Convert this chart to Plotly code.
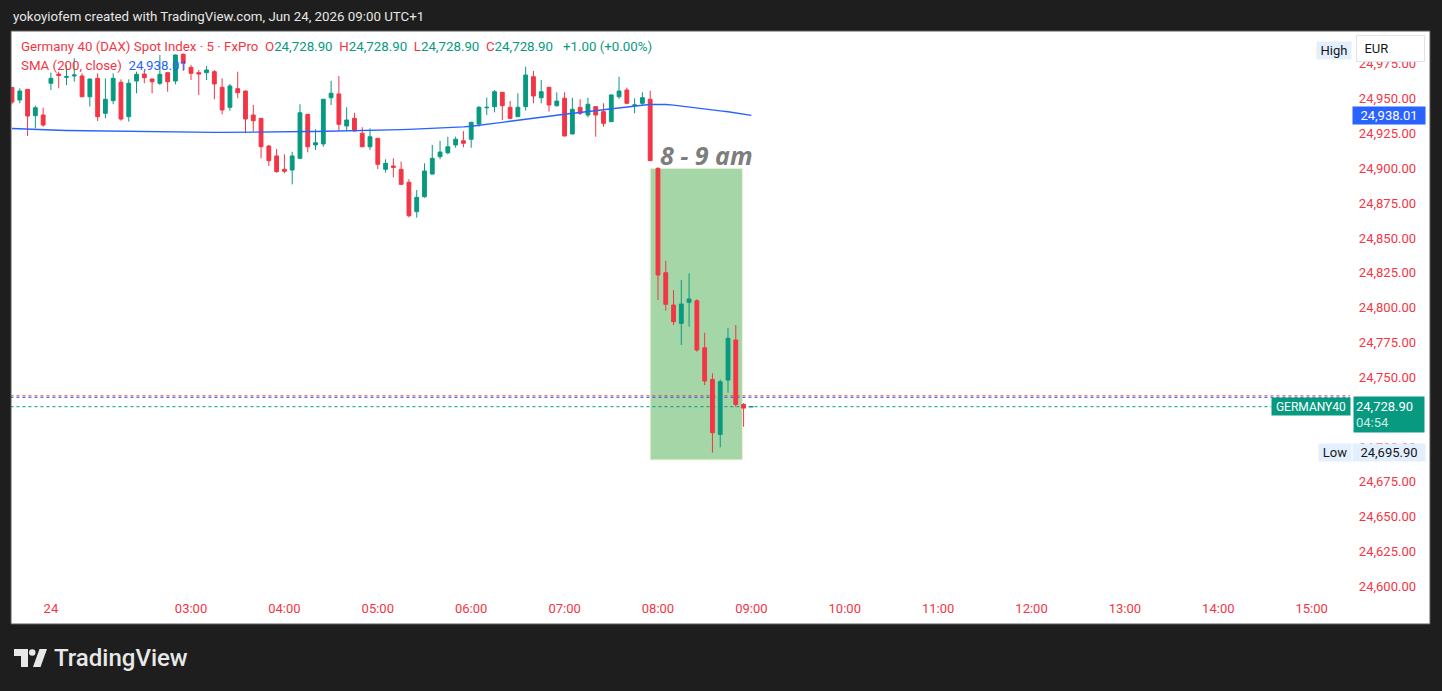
import plotly.graph_objects as go

# ---------------- data ----------------
bar_start_labels = ["23 22:35", "23 22:40", "23 22:45", "23 22:50", "23 22:55"]
opens = [24958.0, 24949.1, 24956.7, 24937.8, 24938.3, 24961.1, 24967.7, 24965.4, 24966.3, 24966.3,
         24951.4, 24964.6, 24939.5, 24948.6, 24961.8, 24937.1, 24962.7, 24967.7, 24964.1, 24961.1,
         24968.7, 24962.7, 24981.9, 24972.5, 24968.7, 24968.7, 24969.4, 24958.2, 24943.8, 24957.2,
         24955.5, 24938.3, 24935.9, 24916.0, 24908.9, 24899.3, 24898.8, 24907.2, 24938.8, 24916.8,
         24917.5, 24950.7, 24953.4, 24930.4, 24935.9, 24925.2, 24915.5, 24921.6, 24899.3, 24901.7,
         24899.3, 24890.0, 24868.9, 24879.6, 24895.9, 24908.4, 24911.2, 24916.8, 24919.8, 24920.9,
         24931.8, 24943.5, 24944.3, 24954.6, 24943.8, 24937.1, 24944.3, 24965.8, 24950.7, 24958.2,
         24945.0, 24950.3, 24924.7, 24943.8, 24938.3, 24944.3, 24940.7, 24933.5, 24951.4, 24956.2,
         24945.3, 24946.7, 24949.6, 24900.0, 24825.1, 24801.9, 24788.7, 24803.8, 24805.0, 24771.2,
         24748.5, 24709.0, 24748.0, 24776.8, 24730.5, 24728.9]
highs = [24958.5, 24957.5, 24957.0, 24945.0, 24943.5, 24968.7, 24969.4, 24974.2, 24979.0, 24968.1,
         24964.5, 24968.2, 24964.6, 24968.2, 24963.9, 24963.9, 24969.4, 24969.4, 24964.5, 24981.4,
         24968.8, 24981.7, 24982.5, 24974.2, 24970.6, 24973.5, 24970.6, 24964.6, 24960.6, 24969.4,
         24955.9, 24945.5, 24936.1, 24916.8, 24913.9, 24910.1, 24911.9, 24946.0, 24939.0, 24928.0,
         24949.8, 24962.9, 24966.3, 24943.8, 24939.9, 24929.5, 24928.7, 24921.8, 24906.5, 24907.2,
         24904.8, 24892.3, 24884.4, 24903.6, 24916.8, 24919.8, 24922.7, 24922.7, 24926.8, 24933.3,
         24944.8, 24950.7, 24956.2, 24954.8, 24948.3, 24953.9, 24973.0, 24969.9, 24963.4, 24958.4,
         24954.6, 24954.6, 24950.7, 24949.6, 24950.7, 24944.4, 24946.7, 24953.0, 24965.8, 24957.9,
         24950.3, 24954.6, 24955.7, 24900.7, 24833.7, 24812.6, 24819.8, 24824.6, 24806.0, 24782.0,
         24752.8, 24748.5, 24785.2, 24787.5, 24731.5, 24728.9]
lows = [24946.0, 24946.7, 24923.2, 24928.7, 24929.9, 24956.2, 24957.5, 24959.8, 24962.2, 24951.2,
        24944.3, 24934.0, 24935.9, 24946.0, 24934.2, 24933.5, 24953.9, 24961.1, 24953.9, 24959.8,
        24955.0, 24960.3, 24969.9, 24963.4, 24952.7, 24963.4, 24949.6, 24938.8, 24941.4, 24950.3,
        24925.2, 24926.3, 24907.2, 24901.7, 24896.9, 24896.4, 24888.5, 24907.1, 24911.5, 24913.2,
        24915.5, 24945.5, 24926.8, 24926.8, 24926.4, 24915.3, 24913.2, 24899.5, 24896.9, 24893.6,
        24888.4, 24864.8, 24864.6, 24878.9, 24895.7, 24906.5, 24910.1, 24914.8, 24915.1, 24914.8,
        24929.9, 24938.3, 24940.2, 24934.7, 24935.2, 24936.9, 24941.4, 24946.7, 24946.7, 24940.7,
        24944.3, 24923.0, 24924.4, 24938.3, 24936.6, 24922.7, 24929.9, 24933.3, 24949.8, 24946.0,
        24939.5, 24945.5, 24905.3, 24805.5, 24797.8, 24787.5, 24773.2, 24786.3, 24768.4, 24744.4,
        24695.9, 24699.7, 24738.9, 24728.6, 24714.5, 24728.9]
closes = [24947.6, 24955.5, 24937.6, 24943.5, 24931.1, 24964.6, 24966.7, 24965.8, 24967.0, 24951.4,
          24964.1, 24937.1, 24949.6, 24964.6, 24935.4, 24961.1, 24967.5, 24965.1, 24962.2, 24967.5,
          24962.2, 24981.4, 24975.4, 24968.2, 24967.7, 24970.6, 24960.6, 24941.9, 24959.1, 24954.3,
          24935.4, 24934.2, 24915.5, 24905.5, 24897.6, 24897.9, 24908.9, 24939.9, 24915.5, 24918.4,
          24949.6, 24953.9, 24931.6, 24934.7, 24926.8, 24915.5, 24922.7, 24902.9, 24903.6, 24900.7,
          24888.5, 24866.0, 24879.2, 24898.1, 24907.2, 24911.7, 24915.5, 24920.9, 24918.0, 24933.1,
          24943.8, 24943.8, 24955.0, 24945.0, 24935.9, 24943.8, 24967.0, 24951.9, 24955.0, 24945.5,
          24948.3, 24923.2, 24942.4, 24939.5, 24946.0, 24938.3, 24932.3, 24952.7, 24955.5, 24946.7,
          24945.5, 24950.7, 24905.5, 24823.4, 24802.4, 24789.9, 24802.6, 24806.2, 24769.6, 24747.3,
          24710.2, 24746.8, 24778.0, 24730.5, 24727.9, 24728.9]
sma200 = [24928.6, 24928.3, 24928.0, 24927.8, 24927.5,
          24927.4, 24927.3, 24927.2, 24927.1, 24927.0, 24926.9, 24926.8, 24926.7, 24926.6, 24926.5, 24926.4,
          24926.3, 24926.2, 24926.1, 24926.0, 24926.0, 24925.9, 24925.9, 24925.8, 24925.8, 24925.8, 24925.8,
          24925.8, 24925.9, 24925.9, 24926.0,
          24926.0, 24926.1, 24926.1, 24926.2, 24926.2, 24926.3, 24926.3, 24926.4, 24926.4, 24926.5, 24926.6,
          24926.6, 24926.7, 24926.8, 24926.9,
          24927.0, 24927.2, 24927.4, 24927.6, 24927.8, 24928.0, 24928.2,
          24928.4, 24928.6, 24928.9, 24929.2, 24929.5, 24929.8, 24930.2,
          24930.8, 24931.5, 24932.3, 24933.0, 24933.8, 24934.6, 24935.3,
          24936.0, 24936.7, 24937.4, 24938.1, 24938.8, 24939.5,
          24940.2, 24940.9, 24941.6, 24942.3, 24942.9, 24943.5, 24944.1,
          24944.8, 24945.3, 24945.8, 24946.0, 24945.8,
          24945.4, 24944.8, 24944.1, 24943.4, 24942.7, 24942.0, 24941.3, 24940.6, 24939.9, 24939.0, 24938.01]

x_tick_index = [5, 23, 35, 47, 59, 71, 83, 95, 107, 119, 131, 143, 155, 167]
x_tick_text = ["24", "03:00", "04:00", "05:00", "06:00", "07:00", "08:00", "09:00",
               "10:00", "11:00", "12:00", "13:00", "14:00", "15:00"]
# 24,725 is fully hidden behind the last-price tag in the reference, so it is not listed
price_ticks = [24600, 24625, 24650, 24675, 24700, 24750, 24775, 24800,
               24825, 24850, 24875, 24900, 24925, 24950, 24975]

last_price = 24728.90
ask_price = 24736.7
bid_price = 24735.6
day_low = 24695.90
countdown = "04:54"
box_price_top = 24900.0
box_price_bottom = 24690.7
box_bar_start = 82
box_bar_end = 93.85
box_label = "8 - 9 am"

# ---------------- helpers ----------------
UP, DOWN, BLUE = "#089981", "#F23645", "#2962FF"
FONT = "Roboto"
PL, PR, PT, PB = 11, 1430, 31, 624


def px(x):
    return (x - PL) / (PR - PL)


def py(y):
    return (PB - y) / (PB - PT)


n = len(opens)
xs = list(range(n))
bar_time = bar_start_labels + [f"24 {h:02d}:{m:02d}" for h in range(1, 10) for m in range(0, 60, 5)
                              if (h * 60 + m) >= 90][: n - len(bar_start_labels)]

fig = go.Figure()
fig.add_trace(go.Candlestick(
    x=xs, open=opens, high=highs, low=lows, close=closes, text=bar_time,
    increasing=dict(line=dict(color=UP, width=1), fillcolor=UP),
    decreasing=dict(line=dict(color=DOWN, width=1), fillcolor=DOWN),
    whiskerwidth=0, hoverinfo="skip", showlegend=False,
))
fig.add_trace(go.Scatter(x=xs, y=sma200, mode="lines", line=dict(color=BLUE, width=1.4),
                         hoverinfo="skip", showlegend=False))

shapes = [
    dict(type="rect", xref="x", yref="y", x0=box_bar_start, x1=box_bar_end,
         y0=box_price_bottom, y1=box_price_top, fillcolor="#a5d6a7",
         line=dict(color="#f1efd6", width=1), layer="below"),
    dict(type="line", xref="x", yref="y", x0=-0.2, x1=171.9, y0=ask_price, y1=ask_price,
         line=dict(color=DOWN, width=1, dash="dot"), layer="below"),
    dict(type="line", xref="x", yref="y", x0=-0.2, x1=171.9, y0=bid_price, y1=bid_price,
         line=dict(color=BLUE, width=1, dash="dot"), layer="below"),
    dict(type="line", xref="x", yref="y", x0=-0.2, x1=161.8, y0=last_price, y1=last_price,
         line=dict(color=UP, width=1, dash="dot"), layer="below"),
    dict(type="rect", xref="paper", yref="paper", x0=0, x1=1, y0=0, y1=1,
         line=dict(color="#5a5a5a", width=1), layer="above"),
]


def poly(points):
    return "M " + " L ".join(f"{px(a):.5f},{py(b):.5f}" for a, b in points) + " Z"


logo_col = "#e8e8e8"
shapes.append(dict(type="path", xref="paper", yref="paper",
                   path=poly([(14, 649), (28, 649), (28, 667), (21, 667), (21, 656), (14, 656)]),
                   fillcolor=logo_col, line=dict(width=0)))
shapes.append(dict(type="circle", xref="paper", yref="paper",
                   x0=px(29), x1=px(35.5), y0=py(649.2), y1=py(655.7),
                   fillcolor=logo_col, line=dict(width=0)))
shapes.append(dict(type="path", xref="paper", yref="paper",
                   path=poly([(33, 667), (40.5, 667), (47, 649), (39.5, 649)]),
                   fillcolor=logo_col, line=dict(width=0)))

fmt = lambda v: f"{v:,.2f}"
chg = closes[-1] - closes[-2]
sp = "\u00a0"


def c(t, col):
    return f'<span style="color:{col}">{t}</span>'


legend1 = (c(f"Germany 40 (DAX) Spot Index{sp}·{sp}5{sp}·{sp}FxPro", DOWN) + sp + sp +
           c("O", DOWN) + c(fmt(opens[-1]), UP) + sp + sp +
           c("H", DOWN) + c(fmt(highs[-1]), UP) + sp + sp +
           c("L", DOWN) + c(fmt(lows[-1]), UP) + sp + sp +
           c("C", DOWN) + c(fmt(closes[-1]), UP) + sp + sp + sp +
           c(f"{chg:+.2f}{sp}({chg / closes[-2] * 100:+.2f}%)", UP))
legend2 = c("SMA (200, close)", DOWN) + sp + sp + c(fmt(sma200[-1]), BLUE)


def tag(x, y, text, bg, w, h, yref="y", fcol="white", size=13, **kw):
    d = dict(xref="paper", yref=yref, x=x, y=y, text=text, xanchor="center", yanchor="middle",
             font=dict(family=FONT, size=size, color=fcol), bgcolor=bg, width=w, height=h,
             borderpad=1, showarrow=False)
    d.update(kw)
    return d


ann = [
    dict(xref="paper", yref="paper", x=px(11), y=py(16), xanchor="left", yanchor="middle",
         text="yokoyiofem created with TradingView.com, Jun 24, 2026 09:00 UTC+1",
         font=dict(family=FONT, size=13.3, color="#e6e6e6"), showarrow=False),
    dict(xref="paper", yref="paper", x=px(19), y=py(47), xanchor="left", yanchor="middle",
         text=legend1, font=dict(family=FONT, size=13.3), showarrow=False),
    dict(xref="paper", yref="paper", x=px(19), y=py(66), xanchor="left", yanchor="middle",
         text=legend2, font=dict(family=FONT, size=13.3), showarrow=False),
    dict(xref="x", yref="y", x=89.2, y=24909.6, xanchor="center", yanchor="middle",
         text=f"<b><i>{box_label}</i></b>",
         font=dict(family="Open Sans", size=25, color="#7d7d7d"), showarrow=False),
    # right-side tags
    tag(px(1389), sma200[-1], fmt(sma200[-1]), BLUE, 70, 15),
    tag(px(1389), last_price, fmt(last_price) + "<br>" + c(countdown, "#c8ebe4"), UP, 66, 31,
        yshift=-7.5, align="left", borderpad=2),
    tag(px(1311), last_price, "GERMANY40", UP, 76, 15, size=12),
    tag(px(1335), day_low, "Low", "#e3effd", 30, 15, fcol="#131722"),
    tag(px(1389), day_low, fmt(day_low), "#e3effd", 70, 15, fcol="#131722"),
    tag(px(1334), max(highs[5:]), "High", "#e3effd", 32, 15, fcol="#131722", yshift=3),
    tag(px(1390.5), py(48.5), sp + sp + "EUR", "white", 65, 23, yref="paper", fcol="#131722",
        align="left", bordercolor="#e0e3eb", borderwidth=1),
    dict(xref="paper", yref="paper", x=px(52), y=py(657.5), xanchor="left", yanchor="middle",
         text="TradingView", font=dict(family=FONT, size=24, color=logo_col, weight=500),
         showarrow=False),
]

fig.update_layout(
    width=1442, height=691,
    margin=dict(l=PL, r=1442 - PR, t=PT, b=691 - PB, pad=0),
    paper_bgcolor="#1e1e1e", plot_bgcolor="white",
    showlegend=False, hovermode=False, dragmode=False,
    shapes=shapes, annotations=ann,
    xaxis=dict(range=[-0.13, 182.2], tickmode="array", tickvals=x_tick_index, ticktext=x_tick_text,
               ticklabelposition="inside", ticklabelstandoff=5, ticks="",
               tickfont=dict(family=FONT, size=13, color=DOWN),
               showgrid=False, zeroline=False, showline=False, rangeslider=dict(visible=False),
               fixedrange=True),
    yaxis=dict(range=[24572.9, 24998.6], side="right", tickmode="array", tickvals=price_ticks,
               tickformat=",.2f", ticklabelposition="inside", ticklabelstandoff=11, ticks="",
               tickfont=dict(family=FONT, size=13, color=DOWN),
               showgrid=False, zeroline=False, showline=False, fixedrange=True),
)

fig.write_html("out.html", config={"displayModeBar": False},
               post_script="document.body.style.margin='0';document.body.style.overflow='hidden';"
                           "document.body.style.background='#1e1e1e';")
